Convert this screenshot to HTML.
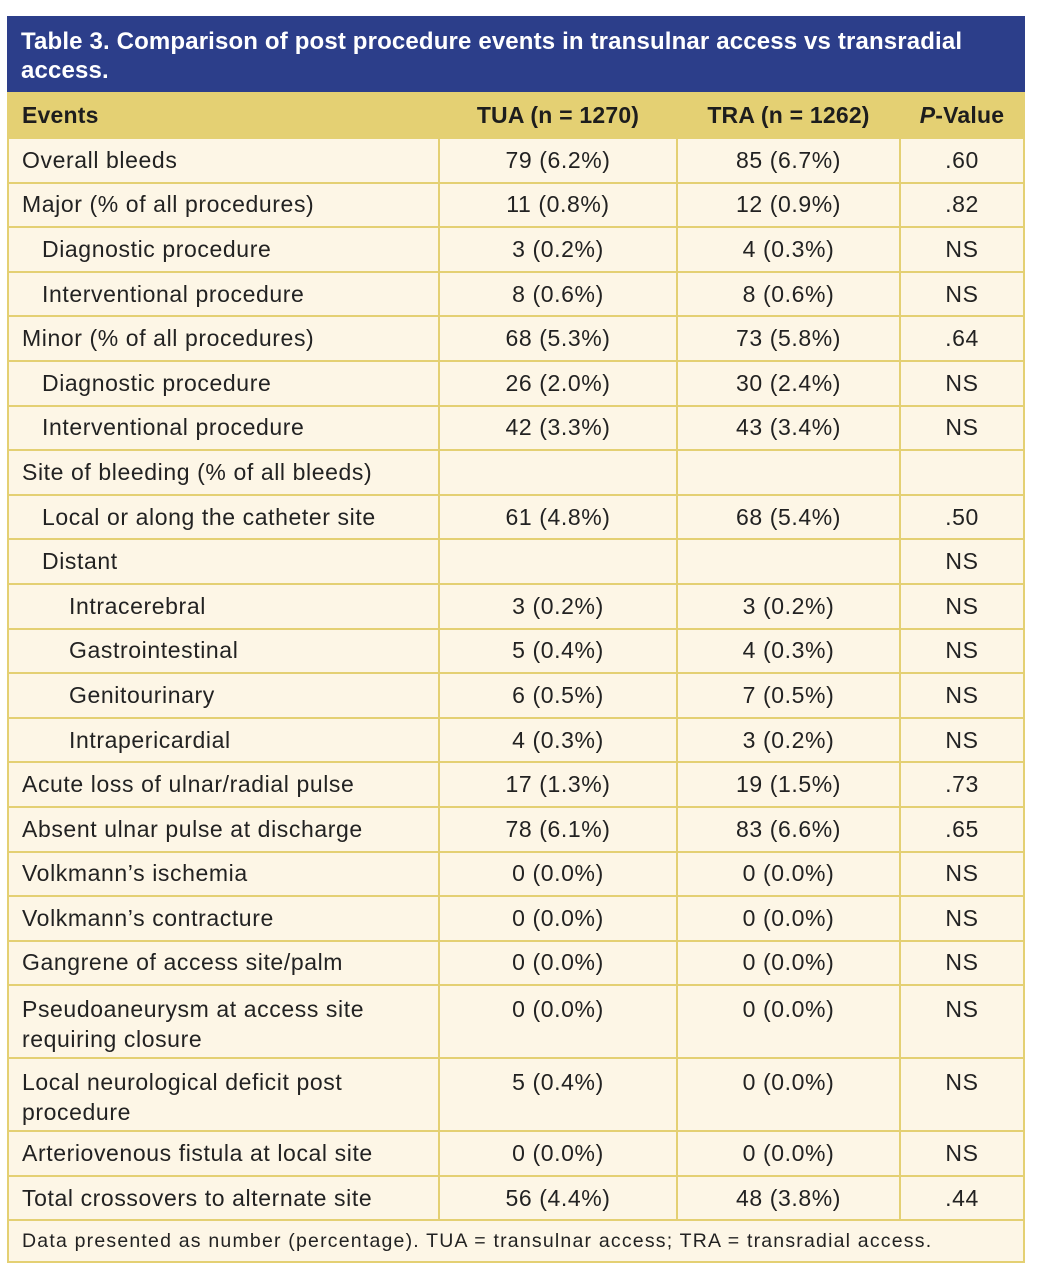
<!DOCTYPE html>
<html><head><meta charset="utf-8"><style>
body{margin:0;background:#fff;font-family:"Liberation Sans",sans-serif;}
#wrap{position:absolute;left:7px;top:16px;width:1018px;}
.title{background:#2c3e8a;color:#fff;font-size:24px;font-weight:bold;line-height:29px;padding:11px 14px 6px 14px;height:59px;letter-spacing:0.15px}
table{border-collapse:collapse;width:1016px;table-layout:fixed;margin-left:0}
td,th{border:2px solid #e4d073;font-size:23px;letter-spacing:0.6px;color:#222;padding:0;height:42.6px;}
th{background:#e4d073;font-weight:bold;text-align:center;height:43px;color:#1d1d1d;letter-spacing:0.2px}
td{background:#fdf6e6;text-align:center;}
td.l,th.l{text-align:left;padding-left:13px}
td.i1{padding-left:33px}
td.i2{padding-left:60px}
tr.two td{height:63px;vertical-align:top;line-height:30px;padding-top:8px;box-sizing:content-box}
td.foot{font-size:19.5px;letter-spacing:1.2px;text-align:left;padding-left:13px;height:40px}
</style></head><body>
<div id="wrap">
<div class="title">Table 3. Comparison of post procedure events in transulnar access vs transradial access.</div>
<table>
<colgroup><col style="width:431px"><col style="width:238px"><col style="width:223px"><col style="width:124px"></colgroup>
<tr><th class="l">Events</th><th>TUA (n = 1270)</th><th>TRA (n = 1262)</th><th><i>P</i>-Value</th></tr>
<tr><td class="l">Overall bleeds</td><td>79 (6.2%)</td><td>85 (6.7%)</td><td>.60</td></tr>
<tr><td class="l">Major (% of all procedures)</td><td>11 (0.8%)</td><td>12 (0.9%)</td><td>.82</td></tr>
<tr><td class="l i1">Diagnostic procedure</td><td>3 (0.2%)</td><td>4 (0.3%)</td><td>NS</td></tr>
<tr><td class="l i1">Interventional procedure</td><td>8 (0.6%)</td><td>8 (0.6%)</td><td>NS</td></tr>
<tr><td class="l">Minor (% of all procedures)</td><td>68 (5.3%)</td><td>73 (5.8%)</td><td>.64</td></tr>
<tr><td class="l i1">Diagnostic procedure</td><td>26 (2.0%)</td><td>30 (2.4%)</td><td>NS</td></tr>
<tr><td class="l i1">Interventional procedure</td><td>42 (3.3%)</td><td>43 (3.4%)</td><td>NS</td></tr>
<tr><td class="l">Site of bleeding (% of all bleeds)</td><td></td><td></td><td></td></tr>
<tr><td class="l i1">Local or along the catheter site</td><td>61 (4.8%)</td><td>68 (5.4%)</td><td>.50</td></tr>
<tr><td class="l i1">Distant</td><td></td><td></td><td>NS</td></tr>
<tr><td class="l i2">Intracerebral</td><td>3 (0.2%)</td><td>3 (0.2%)</td><td>NS</td></tr>
<tr><td class="l i2">Gastrointestinal</td><td>5 (0.4%)</td><td>4 (0.3%)</td><td>NS</td></tr>
<tr><td class="l i2">Genitourinary</td><td>6 (0.5%)</td><td>7 (0.5%)</td><td>NS</td></tr>
<tr><td class="l i2">Intrapericardial</td><td>4 (0.3%)</td><td>3 (0.2%)</td><td>NS</td></tr>
<tr><td class="l">Acute loss of ulnar/radial pulse</td><td>17 (1.3%)</td><td>19 (1.5%)</td><td>.73</td></tr>
<tr><td class="l">Absent ulnar pulse at discharge</td><td>78 (6.1%)</td><td>83 (6.6%)</td><td>.65</td></tr>
<tr><td class="l">Volkmann’s ischemia</td><td>0 (0.0%)</td><td>0 (0.0%)</td><td>NS</td></tr>
<tr><td class="l">Volkmann’s contracture</td><td>0 (0.0%)</td><td>0 (0.0%)</td><td>NS</td></tr>
<tr><td class="l">Gangrene of access site/palm</td><td>0 (0.0%)</td><td>0 (0.0%)</td><td>NS</td></tr>
<tr class="two"><td class="l">Pseudoaneurysm at access site<br>requiring closure</td><td>0 (0.0%)</td><td>0 (0.0%)</td><td>NS</td></tr>
<tr class="two"><td class="l">Local neurological deficit post<br>procedure</td><td>5 (0.4%)</td><td>0 (0.0%)</td><td>NS</td></tr>
<tr><td class="l">Arteriovenous fistula at local site</td><td>0 (0.0%)</td><td>0 (0.0%)</td><td>NS</td></tr>
<tr><td class="l">Total crossovers to alternate site</td><td>56 (4.4%)</td><td>48 (3.8%)</td><td>.44</td></tr>
<tr><td class="foot" colspan="4">Data presented as number (percentage). TUA = transulnar access; TRA = transradial access.</td></tr>
</table>
</div>
</body></html>
